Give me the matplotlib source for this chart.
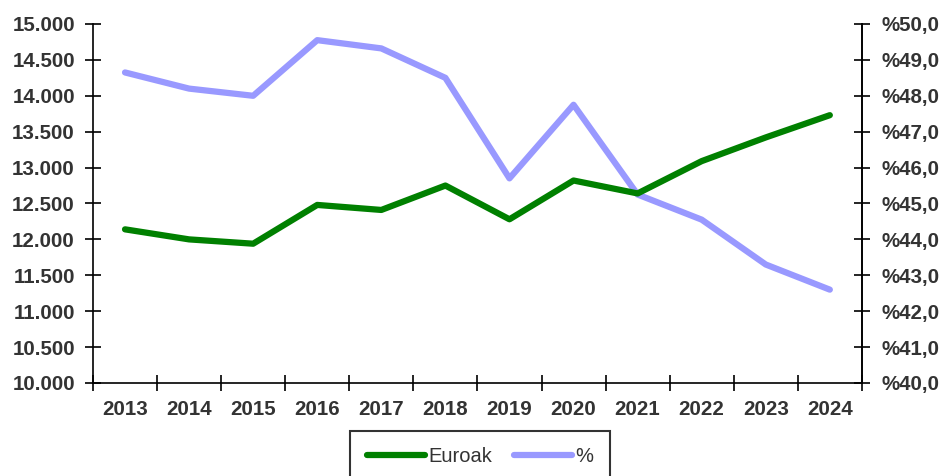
import matplotlib.pyplot as plt
from matplotlib.ticker import FuncFormatter

# --- Data ---
YEARS = ["2013", "2014", "2015", "2016", "2017", "2018",
         "2019", "2020", "2021", "2022", "2023", "2024"]
EUROAK = [12140, 12000, 11940, 12480, 12410, 12750,
          12280, 12820, 12640, 13090, 13420, 13730]
PERCENT = [48.65, 48.2, 48.0, 49.55, 49.32, 48.5,
           45.7, 47.75, 45.25, 44.55, 43.3, 42.6]

GREEN = "#008000"
LAVENDER = "#9999FF"
TEXT = "#333333"


def thousands(v, _):
    return f"{v:,.0f}".replace(",", ".")


def percent(v, _):
    return f"%{v:.1f}".replace(".", ",")


fig = plt.figure(figsize=(9.44, 4.76), dpi=100)
ax = fig.add_axes([0.0985, 0.1954, 0.8145, 0.7542])
ax2 = ax.twinx()

x = list(range(len(YEARS)))
l1, = ax.plot(x, EUROAK, color=GREEN, linewidth=4.5, solid_capstyle="round",
              solid_joinstyle="round", label="Euroak")
l2, = ax2.plot(x, PERCENT, color=LAVENDER, linewidth=4.5, solid_capstyle="round",
               solid_joinstyle="round", label="%")
ax.set_zorder(ax2.get_zorder() + 1)
ax.patch.set_visible(False)

# Left axis
ax.set_ylim(10000, 15000)
ax.set_yticks(range(10000, 15001, 500))
ax.yaxis.set_major_formatter(FuncFormatter(thousands))

# Right axis
ax2.set_ylim(40, 50)
ax2.set_yticks(range(40, 51))
ax2.yaxis.set_major_formatter(FuncFormatter(percent))

# Category x-axis: ticks between categories, labels centred
ax.set_xlim(-0.5, len(YEARS) - 0.5)
ax.set_xticks([i - 0.5 for i in range(len(YEARS) + 1)])
ax.set_xticklabels([])
ax.set_xticks(x, minor=True)
ax.set_xticklabels(YEARS, minor=True)
ax.tick_params(axis="x", which="minor", length=0, pad=12)

for a in (ax, ax2):
    a.spines["top"].set_visible(False)
    for s in ("left", "right", "bottom"):
        a.spines[s].set_linewidth(1.2)
        a.spines[s].set_color("black")
    a.tick_params(which="major", direction="inout", length=12, width=1.2, color="black")
    for lbl in a.get_yticklabels() + a.get_xticklabels(minor=True):
        lbl.set_fontfamily("Liberation Sans")
        lbl.set_fontweight("bold")
        lbl.set_fontsize(14.8)
        lbl.set_color(TEXT)

ax.tick_params(axis="y", pad=7)
ax2.tick_params(axis="y", pad=8)
ax2.spines["left"].set_visible(False)
ax2.spines["bottom"].set_visible(False)

leg = fig.legend([l1, l2], ["Euroak", "%"], loc="upper center",
                 bbox_to_anchor=(0.5085, 0.0945), ncol=2, frameon=True,
                 fancybox=False, edgecolor="black", handlelength=2.9,
                 handletextpad=0.15, columnspacing=1.1, borderpad=0.8,
                 borderaxespad=0.0,
                 prop={"family": "Liberation Sans", "size": 14.5})
leg.get_frame().set_linewidth(1.5)
for t in leg.get_texts():
    t.set_color(TEXT)

fig.savefig("out.png", dpi=100)
plt.close(fig)
